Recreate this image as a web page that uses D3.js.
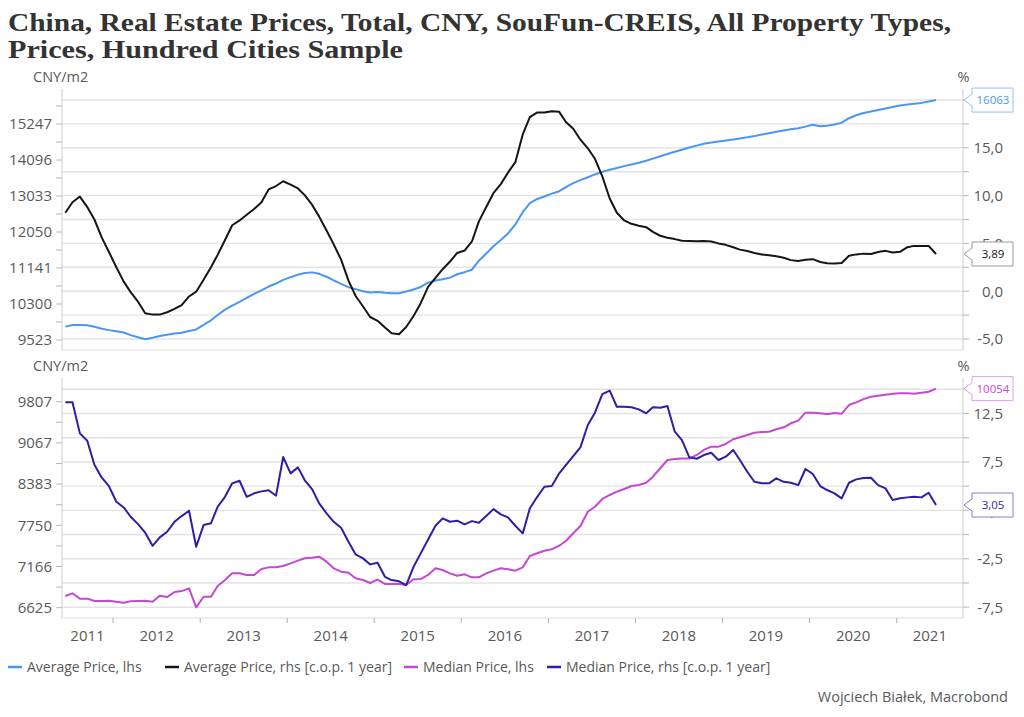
<!DOCTYPE html>
<html><head><meta charset="utf-8">
<script src="https://cdn.jsdelivr.net/npm/d3@7/dist/d3.min.js"></script>
<style>body{margin:0;background:#fff}svg{display:block}</style>
</head><body><svg id="c" width="1024" height="717"></svg>
<script>
// ---------- DATA ----------
const titleLines = ["China, Real Estate Prices, Total, CNY, SouFun-CREIS, All Property Types,",
                    "Prices, Hundred Cities Sample"];
const firstMonth = [2011, 6];   // June 2011, monthly observations
const years = ["2011","2012","2013","2014","2015","2016","2017","2018","2019","2020","2021"];
const seriesNames = ["Average Price, lhs","Average Price, rhs [c.o.p. 1 year]","Median Price, lhs","Median Price, rhs [c.o.p. 1 year]"];
const sourceText = "Wojciech Białek, Macrobond";

const avgPrice = [
9805,9838,9840,9835,9800,9760,9730,9705,9680,9625,
9580,9538,9570,9605,9632,9658,9675,9710,9745,9840,
9940,10055,10175,10265,10350,10440,10530,10610,10700,10770,
10855,10920,10980,11020,11035,11000,10930,10845,10760,10685,
10640,10590,10560,10572,10555,10544,10544,10585,10630,10690,
10790,10840,10870,10910,10990,11040,11100,11320,11500,11680,
11840,12010,12250,12580,12830,12950,13020,13100,13170,13290,
13405,13490,13575,13660,13740,13800,13855,13910,13960,14010,
14075,14140,14210,14280,14350,14415,14485,14545,14605,14645,
14675,14705,14740,14775,14810,14850,14900,14945,14990,15035,
15075,15105,15160,15220,15175,15190,15230,15290,15440,15540,
15615,15665,15720,15770,15820,15875,15905,15935,15965,16010,
16063];
const avgYoY = [
8.2,9.3,9.9,8.8,7.5,5.6,4.1,2.5,1.0,-0.1,
-1.1,-2.3,-2.45,-2.45,-2.2,-1.85,-1.45,-0.55,-0.05,1.2,
2.5,3.8,5.35,6.9,7.4,8.0,8.6,9.3,10.65,11.0,
11.5,11.15,10.75,10.05,9.05,7.8,6.35,4.9,3.3,1.1,
-0.5,-1.6,-2.7,-3.1,-3.8,-4.4,-4.5,-3.75,-2.6,-1.25,
0.45,1.4,2.3,3.1,4.0,4.25,5.2,7.3,8.8,10.25,
11.2,12.4,13.5,16.4,18.2,18.7,18.7,18.83,18.76,17.7,
17.0,15.85,14.95,13.85,12.0,9.7,8.2,7.4,7.05,6.85,
6.7,6.2,5.8,5.6,5.45,5.27,5.25,5.23,5.25,5.2,
5.0,4.85,4.6,4.35,4.2,4.0,3.85,3.77,3.65,3.5,
3.25,3.15,3.3,3.35,3.05,2.92,2.9,2.95,3.7,3.85,
3.93,3.9,4.1,4.22,4.05,4.12,4.6,4.74,4.74,4.74,
3.89];
const medianPrice = [
6774,6809,6740,6740,6710,6710,6713,6701,6688,6706,
6710,6713,6701,6778,6760,6826,6838,6874,6630,6764,
6764,6905,6984,7073,7073,7051,7051,7131,7154,7154,
7172,7209,7246,7279,7287,7301,7232,7141,7095,7081,
7007,6984,6944,6988,6931,6931,6931,6919,6993,6997,
7051,7141,7118,7073,7041,7060,7019,7019,7073,7109,
7141,7127,7109,7154,7310,7348,7384,7404,7455,7523,
7633,7741,7953,8029,8149,8211,8263,8305,8353,8369,
8405,8502,8640,8777,8794,8800,8800,8861,8946,9002,
9002,9049,9130,9165,9205,9245,9257,9262,9305,9340,
9412,9459,9604,9604,9592,9575,9598,9586,9745,9795,
9856,9900,9918,9937,9956,9964,9964,9956,9975,9994,
10054];
const medianYoY = [
13.66,13.66,10.45,9.69,7.2,5.87,5.0,3.39,2.8,1.84,
1.08,0.19,-1.16,-0.29,0.29,1.32,1.91,2.46,-1.26,0.98,
1.16,2.87,3.9,5.29,5.56,3.9,4.26,4.46,4.57,4.01,
8.01,6.32,6.94,5.63,4.7,3.22,2.19,1.32,0.7,-0.74,
-2.05,-2.46,-3.08,-2.91,-4.36,-4.7,-4.83,-5.22,-3.33,-1.94,
-0.5,0.91,1.67,1.32,1.43,1.05,1.39,1.22,1.91,2.63,
2.09,1.78,0.91,0.12,2.71,3.9,4.94,5.01,6.32,7.18,
8.11,9.0,11.31,12.58,14.51,14.86,13.2,13.2,13.14,12.93,
12.52,13.14,13.1,13.27,10.62,9.76,7.98,7.83,8.21,8.45,
7.7,8.04,8.73,7.7,6.49,5.45,5.29,5.29,5.81,5.45,
5.35,5.11,6.77,6.25,5.01,4.6,4.26,3.74,5.35,5.7,
5.84,5.87,5.11,4.77,3.56,3.74,3.84,3.9,3.84,4.32,
3.05];

const topLeftTicks = [9523,10300,11141,12050,13033,14096,15247];
const topRightTicks = [-5,-2.5,0,2.5,5,7.5,10,12.5,15,17.5,20];
const topRightLabels = [-5,0,5,10,15];
const botLeftTicks = [6625,7166,7750,8383,9067,9807];
const botRightTicks = [-7.5,-5,-2.5,0,2.5,5,7.5,10,12.5,15];
const botRightLabels = [-7.5,-2.5,2.5,7.5,12.5];
const lastLabels = ["16063","3,89","10054","3,05"];

// ---------- STYLE ----------
const colors = ["#4a96f2","#151515","#c548d2","#2d1ea6"];
const tagBorders = ["#92c2f8","#9a9a9a","#e39be9","#8a80cc"];
const FONT = "'Open Sans', 'Noto Sans', sans-serif";
const TXT = "#595959";
const X0 = 62, X1 = 963;

const svg = d3.select("#c");
svg.append("rect").attr("width",1024).attr("height",717).attr("fill","#fff");

// title
const tl = [[31, 943],[58, 395]];
titleLines.forEach((t,i)=>{
  svg.append("text").attr("x",8).attr("y",tl[i][0]).text(t)
    .attr("font-family","'Liberation Serif', 'DejaVu Serif', serif").attr("font-weight","bold")
    .attr("font-size",26).attr("fill","#333")
    .attr("textLength",tl[i][1]).attr("lengthAdjust","spacingAndGlyphs");
});

const dates = avgPrice.map((d,i)=> new Date(firstMonth[0], firstMonth[1]-1+i, 15));
const x = d3.scaleTime().domain([new Date(2012,0,1), new Date(2021,0,1)]).range([113, 896.7]);

function panel(cfg){
  const g = svg.append("g");
  const yL = cfg.yL, yR = cfg.yR;
  // grid
  g.selectAll(".grid").data(cfg.rTicks).enter().append("line")
    .attr("x1",X0).attr("x2",X1).attr("y1",d=>yR(d)).attr("y2",d=>yR(d))
    .attr("stroke","#e3e3e3").attr("stroke-width",1.4);
  // bottom line
  g.append("line").attr("x1",X0).attr("x2",X1).attr("y1",cfg.bottom).attr("y2",cfg.bottom)
    .attr("stroke","#dcdcdc").attr("stroke-width",1);
  // left axis
  g.append("line").attr("x1",X0).attr("x2",X0).attr("y1",cfg.top).attr("y2",cfg.bottom)
    .attr("stroke","#d6d6d6").attr("stroke-width",1.2);
  const lt = cfg.lTicks;
  const minor = [];
  for(let i=0;i<lt.length-1;i++) minor.push(Math.sqrt(lt[i]*lt[i+1]));
  if(cfg.extraMinorTop) minor.push(lt[lt.length-1]*Math.sqrt(lt[1]/lt[0]));
  g.selectAll(".lt").data(lt.concat(minor)).enter().append("line")
    .attr("x1",56).attr("x2",X0).attr("y1",d=>yL(d)).attr("y2",d=>yL(d))
    .attr("stroke","#b8b8b8").attr("stroke-width",1);
  g.selectAll(".ll").data(lt).enter().append("text")
    .attr("x",52).attr("y",d=>yL(d)).attr("dy","0.36em").attr("text-anchor","end")
    .attr("font-family",FONT).attr("font-size",15).attr("fill",TXT).text(d=>d);
  g.append("text").attr("x",33).attr("y",cfg.top-12).attr("dy","0.36em")
    .attr("font-family",FONT).attr("font-size",14.5).attr("fill",TXT).text("CNY/m2");
  // right axis
  g.append("line").attr("x1",X1).attr("x2",X1).attr("y1",cfg.top).attr("y2",cfg.bottom)
    .attr("stroke","#d6d6d6").attr("stroke-width",1.2);
  g.selectAll(".rt").data(cfg.rTicks).enter().append("line")
    .attr("x1",X1).attr("x2",969).attr("y1",d=>yR(d)).attr("y2",d=>yR(d))
    .attr("stroke","#b8b8b8").attr("stroke-width",1);
  g.selectAll(".rl").data(cfg.rLabels).enter().append("text")
    .attr("x",1003).attr("y",d=>yR(d)).attr("dy","0.36em").attr("text-anchor","end")
    .attr("font-family",FONT).attr("font-size",15).attr("fill",TXT)
    .text(d=>d3.format(".1f")(d).replace(".",",").replace("−","-"));
  g.append("text").attr("x",963.5).attr("y",cfg.top-12).attr("dy","0.36em").attr("text-anchor","middle")
    .attr("font-family",FONT).attr("font-size",14.5).attr("fill",TXT).text("%");
  // series
  cfg.series.forEach(s=>{
    const sc = s.axis==="L"?yL:yR;
    g.append("path").datum(s.values)
      .attr("d", d3.line().x((d,i)=>x(dates[i])).y(d=>sc(d)))
      .attr("fill","none").attr("stroke",colors[s.ci]).attr("stroke-width",2)
      .attr("stroke-linejoin","round");
  });
  // end tags
  cfg.series.forEach(s=>{
    const sc = s.axis==="L"?yL:yR;
    const yv = sc(s.values[s.values.length-1]);
    const t = yv-12, b = yv+12;
    g.append("path")
      .attr("d",`M964,${yv} L972,${yv-6} L972,${t} L1013,${t} L1013,${b} L972,${b} L972,${yv+6} Z`)
      .attr("fill","#fff").attr("stroke",tagBorders[s.ci]).attr("stroke-width",1);
    g.append("text").attr("x",993).attr("y",yv).attr("dy","0.36em").attr("text-anchor","middle")
      .attr("font-family",FONT).attr("font-size",11.5).attr("fill",colors[s.ci]).text(lastLabels[s.ci]);
  });
}

panel({
  top:89, bottom:350,
  yL: d3.scaleLog().domain([9523,15247]).range([340,124]),
  yR: d3.scaleLinear().domain([-5,20]).range([339,100]),
  lTicks: topLeftTicks, extraMinorTop:true, rTicks: topRightTicks, rLabels: topRightLabels,
  series:[{values:avgPrice,axis:"L",ci:0},{values:avgYoY,axis:"R",ci:1}]
});
panel({
  top:378, bottom:618,
  yL: d3.scaleLog().domain([6625,9807]).range([607.7,401.7]),
  yR: d3.scaleLinear().domain([-7.5,15]).range([607.2,389.3]),
  lTicks: botLeftTicks, extraMinorTop:false, rTicks: botRightTicks, rLabels: botRightLabels,
  series:[{values:medianPrice,axis:"L",ci:2},{values:medianYoY,axis:"R",ci:3}]
});

// x axis (bottom panel)
const yearStarts = years.slice(1).map(y=>new Date(+y,0,1));
svg.selectAll(".xt").data(yearStarts).enter().append("line")
  .attr("x1",d=>x(d)).attr("x2",d=>x(d)).attr("y1",618).attr("y2",623)
  .attr("stroke","#b0b0b0").attr("stroke-width",1);
svg.selectAll(".xl").data(years).enter().append("text")
  .attr("x",y=>{const a=Math.max(X0,x(new Date(+y,0,1))), b=Math.min(X1,x(new Date(+y+1,0,1))); return (a+b)/2;})
  .attr("y",641).attr("text-anchor","middle")
  .attr("font-family",FONT).attr("font-size",15).attr("fill",TXT).text(d=>d);

// legend
const legX = [8,165,404,547];
seriesNames.forEach((n,i)=>{
  svg.append("line").attr("x1",legX[i]).attr("x2",legX[i]+14).attr("y1",667).attr("y2",667)
    .attr("stroke",colors[i]).attr("stroke-width",2.5);
  svg.append("text").attr("x",legX[i]+19).attr("y",667).attr("dy","0.36em")
    .attr("font-family",FONT).attr("font-size",14).attr("fill",TXT).text(n);
});
svg.append("text").attr("x",1008).attr("y",697).attr("dy","0.36em").attr("text-anchor","end")
  .attr("font-family",FONT).attr("font-size",14.5).attr("fill",TXT).text(sourceText);
</script></body></html>
